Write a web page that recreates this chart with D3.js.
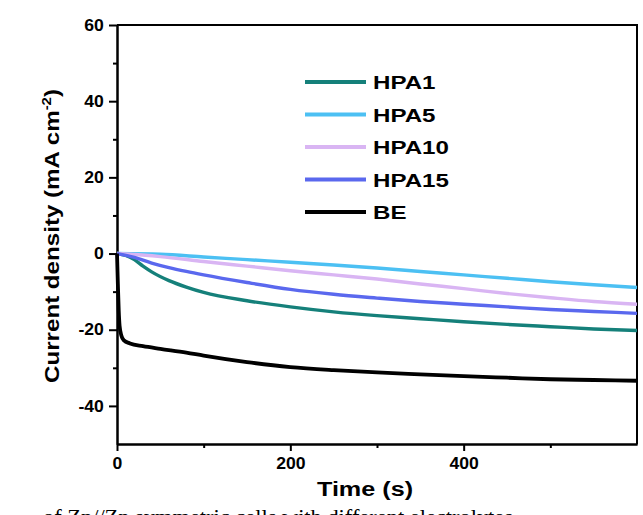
<!DOCTYPE html>
<html>
<head>
<meta charset="utf-8">
<script src="https://cdn.jsdelivr.net/npm/d3@7"></script>
<style>
  body { margin: 0; background: #fff; }
  svg { display: block; }
</style>
</head>
<body>
<div id="chart"></div>
<script>
// Data
const seriesNames = ['HPA1', 'HPA5', 'HPA10', 'HPA15', 'BE'];
const seriesColors = ['#15807a', '#4cc0f3', '#d9b5f3', '#5a68ee', '#000000'];

const hpa1Time = [0, 10, 20, 30, 40, 60, 80, 100, 150, 200, 250, 300, 350, 400, 450, 500, 550, 600];
const hpa1Curr = [0, -0.5, -1.6, -3.3, -4.8, -7.1, -8.8, -10.2, -12.4, -14.0, -15.3, -16.3, -17.1, -17.9, -18.6, -19.2, -19.8, -20.2];

const hpa5Time = [0, 50, 100, 150, 200, 250, 300, 350, 400, 450, 500, 550, 600];
const hpa5Curr = [0, -0.2, -0.9, -1.6, -2.3, -3.0, -3.8, -4.7, -5.6, -6.5, -7.4, -8.2, -8.9];

const hpa10Time = [0, 50, 100, 150, 200, 250, 300, 350, 400, 450, 500, 550, 600];
const hpa10Curr = [0, -0.8, -2.1, -3.3, -4.5, -5.6, -6.7, -8.0, -9.2, -10.5, -11.6, -12.6, -13.3];

const hpa15Time = [0, 20, 40, 60, 80, 100, 150, 200, 250, 300, 350, 400, 450, 500, 550, 600];
const hpa15Curr = [0, -1.0, -2.5, -3.7, -4.7, -5.6, -7.6, -9.4, -10.7, -11.7, -12.6, -13.3, -14.0, -14.7, -15.2, -15.7];

const beTime = [0, 1, 2, 3, 5, 8, 15, 30, 50, 80, 100, 150, 200, 250, 300, 350, 400, 450, 500, 550, 600];
const beCurr = [0, -8, -15, -19, -21.5, -22.8, -23.6, -24.3, -25.0, -26.0, -26.8, -28.5, -29.8, -30.6, -31.2, -31.7, -32.2, -32.6, -33.0, -33.2, -33.4];

const xTicks = [0, 200, 400];
const xMinorTicks = [100, 300, 500];
const yTicks = [-40, -20, 0, 20, 40, 60];
const yMinorTicks = [-30, -10, 10, 30, 50];

const allTimes = [hpa1Time, hpa5Time, hpa10Time, hpa15Time, beTime];
const allCurr = [hpa1Curr, hpa5Curr, hpa10Curr, hpa15Curr, beCurr];

// Width, height and margins
const svgWidth = 643;
const svgHeight = 515;
const margin = { top: 25, left: 117, right: 6, bottom: 71 };
const innerWidth = svgWidth - margin.left - margin.right;
const innerHeight = svgHeight - margin.top - margin.bottom;

// the source figure is a bit stretched sideways, so texts get a small x-scale
const stretch = 1.1;

const svg = d3.select('#chart')
    .append('svg')
    .attr('width', svgWidth)
    .attr('height', svgHeight);

const g = svg.append('g')
    .attr('transform', 'translate(' + margin.left + ',' + margin.top + ')');

const xScale = d3.scaleLinear().domain([0, 600]).range([0, innerWidth]);
const yScale = d3.scaleLinear().domain([-50, 60]).range([innerHeight, 0]);

const sansFont = 'Liberation Sans, Arial, sans-serif';
const plainFormat = d => String(d);

// X axis, major + minor ticks
g.append('g')
    .attr('transform', 'translate(0,' + innerHeight + ')')
    .call(d3.axisBottom(xScale).tickValues(xTicks).tickFormat(plainFormat)
        .tickSize(7).tickPadding(7).tickSizeOuter(0));
g.append('g')
    .attr('transform', 'translate(0,' + innerHeight + ')')
    .call(d3.axisBottom(xScale).tickValues(xMinorTicks).tickSize(4).tickFormat('').tickSizeOuter(0));

// Y axis
g.append('g')
    .call(d3.axisLeft(yScale).tickValues(yTicks).tickFormat(plainFormat)
        .tickSize(8).tickPadding(4).tickSizeOuter(0));
g.append('g')
    .call(d3.axisLeft(yScale).tickValues(yMinorTicks).tickSize(4).tickFormat('').tickSizeOuter(0));

g.selectAll('.domain').attr('stroke', '#000').attr('stroke-width', 2);
g.selectAll('.tick line').attr('stroke', '#000').attr('stroke-width', 2);
g.selectAll('.tick text')
    .attr('fill', '#000')
    .attr('transform', 'scale(' + stretch + ',1)')
    .style('font-family', sansFont)
    .style('font-size', '16px')
    .style('font-weight', 'bold');

// Frame (top and right)
g.append('path')
    .attr('d', 'M0,0H' + innerWidth + 'V' + innerHeight)
    .attr('fill', 'none')
    .attr('stroke', '#000')
    .attr('stroke-width', 2);

// Curves
const line = d3.line()
    .x(d => xScale(d[0]))
    .y(d => yScale(d[1]))
    .curve(d3.curveMonotoneX);

const plotData = seriesNames.map((name, i) => ({
    name: name,
    color: seriesColors[i],
    points: allTimes[i].map((t, j) => [t, allCurr[i][j]])
}));

g.append('g')
    .selectAll('path')
    .data(plotData)
    .join('path')
    .attr('d', d => line(d.points))
    .attr('fill', 'none')
    .attr('stroke', d => d.color)
    .attr('stroke-width', d => d.name === 'BE' ? 3.8 : 3.4)
    .attr('stroke-linejoin', 'round');

// Legend
const legend = svg.append('g')
    .attr('transform', 'translate(305, 82)');

const legendRows = legend.selectAll('g')
    .data(plotData)
    .join('g')
    .attr('transform', (d, i) => 'translate(0,' + (i * 32.5) + ')');

legendRows.append('line')
    .attr('x1', 0).attr('x2', 61)
    .attr('y1', 0).attr('y2', 0)
    .attr('stroke', d => d.color)
    .attr('stroke-width', 4);

legendRows.append('text')
    .attr('transform', 'translate(68,7) scale(1.27,1)')
    .style('font-family', sansFont)
    .style('font-size', '19px')
    .style('font-weight', 'bold')
    .text(d => d.name);

// Axis titles
svg.append('text')
    .attr('transform', 'translate(365,496) scale(1.2,1)')
    .style('text-anchor', 'middle')
    .style('font-family', sansFont)
    .style('font-size', '21px')
    .style('font-weight', 'bold')
    .text('Time (s)');

const yTitle = svg.append('text')
    .attr('transform', 'translate(59,236) rotate(-90) scale(1.15,1)')
    .style('text-anchor', 'middle')
    .style('font-family', sansFont)
    .style('font-size', '21px')
    .style('font-weight', 'bold');
yTitle.append('tspan').text('Current density (mA cm');
yTitle.append('tspan').attr('dy', -8).style('font-size', '13px').text('-2');
yTitle.append('tspan').attr('dy', 8).text(')');

// Caption fragment cut off at the bottom of the image
svg.append('text')
    .attr('x', 43)
    .attr('y', 524)
    .attr('textLength', 470)
    .attr('lengthAdjust', 'spacingAndGlyphs')
    .style('font-family', 'Liberation Serif, Times New Roman, serif')
    .style('font-size', '21px')
    .text('of Zn//Zn symmetric cells with different electrolytes');
</script>
</body>
</html>
